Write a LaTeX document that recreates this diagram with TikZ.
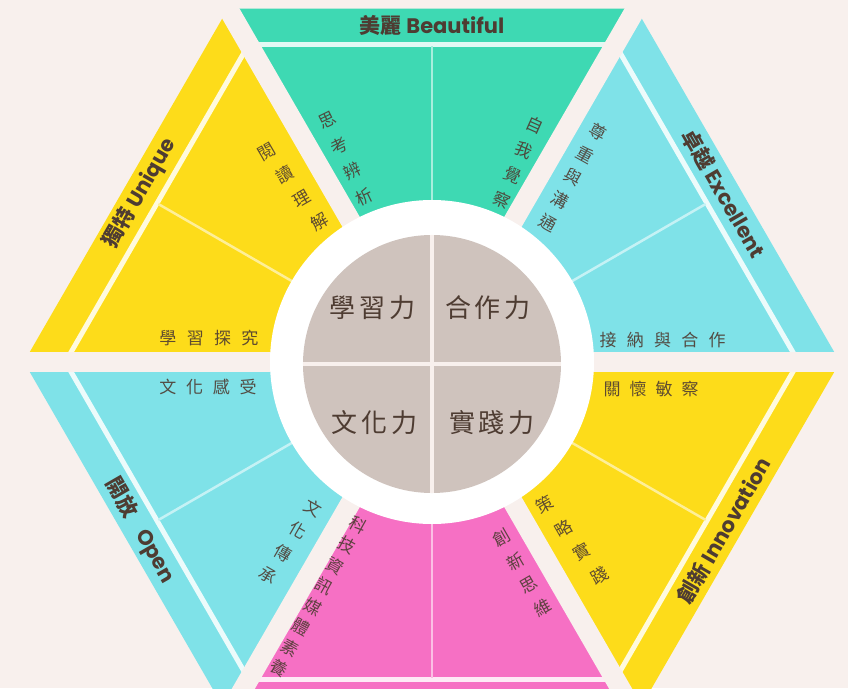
\documentclass[tikz,border=0pt]{standalone}
\usepackage{fontspec}
\usepackage{xcolor}
\usepackage{tikz}
\setmainfont{Noto Sans CJK TC}
\newfontfamily\bandlatin{Poppins}
\definecolor{paper}{RGB}{248,240,237}
\definecolor{hexgreen}{RGB}{62,217,179}
\definecolor{hexcyan}{RGB}{127,226,232}
\definecolor{hexyellow}{RGB}{253,220,26}
\definecolor{hexpink}{RGB}{246,112,196}
\definecolor{coregrey}{RGB}{207,195,189}
\definecolor{inkbrown}{RGB}{78,60,50}
\tikzset{
  bandtext/.style={font=\fontsize{21}{21}\selectfont, text=inkbrown, inner sep=0pt},
  itemtext/.style={font=\fontsize{17}{17}\selectfont, text=inkbrown, text opacity=0.9, inner sep=0pt},
  coretext/.style={font=\fontsize{26}{26}\selectfont, text=inkbrown, inner sep=0pt},
}
\newcommand{\bandlabel}[2]{{\bfseries #1}~{\bandlatin\bfseries #2}}
\newcommand{\charrow}[7]{%
% style, x, y of first character, direction, step,
% rotation of the characters, characters
  \pgfmathsetmacro{\cdir}{#4}
  \pgfmathsetmacro{\cstep}{#5}
  \foreach \ch [count=\i from 0] in {#7}
    \path (#2,#3) ++({\cdir}:{\i*\cstep}) node[#1, rotate=#6] {\ch};
}

\begin{document}
\begin{tikzpicture}[x=1pt, y=1pt]
  \fill[paper] (-432,-326) rectangle (416,362);
  \useasboundingbox (-432,-326) rectangle (416,362);
  % six sectors, band line and inner split
  \foreach \a/\col in {0/hexcyan,60/hexgreen,120/hexyellow,180/hexcyan,240/hexpink,300/hexyellow}{
    \fill[\col] (0,0) -- (\a:408) -- ({\a+60}:408) -- cycle;
    \draw[\col!15!white, line width=5pt] (\a:366.6) -- ({\a+60}:366.6);
    \draw[\col!45!white, line width=2.5pt] ({\a+30}:160) -- ({\a+30}:316);
  }
  % gaps between the sectors
  \foreach \a in {0,60,...,300}
    \draw[paper, line width=20pt] (0,0) -- (\a:440);
  % core
  \fill[white] (0,0) circle (162);
  \fill[coregrey] (0,-2) circle (129);
  \draw[paper, line width=4pt] (0,-131) -- (0,127);
  \draw[paper, line width=4pt] (-129,-2) -- (129,-2);
  % band labels
  \node[bandtext] (beautiful) at (90:337) {\bandlabel{美麗}{Beautiful}};
  \node[bandtext, rotate=60] (unique) at (150:337) {\bandlabel{獨特}{Unique}};
  \node[bandtext, rotate=-60] (excellent) at (30:337) {\bandlabel{卓越}{Excellent}};
  \node[bandtext, rotate=60] (innovation) at (-30:337) {\bandlabel{創新}{Innovation}};
  \node[bandtext, rotate=-60] (open) at (210:337) {\bandlabel{開放}{\hspace{0.6em}Open}};
  % items
  \charrow{itemtext}{-105}{242}{-64}{28.6}{26}{思,考,辨,析}
  \charrow{itemtext}{103}{237}{-114}{27.2}{-24}{自,我,覺,察}
  \charrow{itemtext}{166}{230}{-119}{26}{-29}{尊,重,與,溝,通}
  \charrow{itemtext}{-165}{210}{-53}{29}{30}{閱,讀,理,解}
  \charrow{itemtext}{-119}{-146}{-124}{27}{-30}{文,化,傳,承}
  \charrow{itemtext}{-74}{-163}{-119}{23.4}{-29}{科,技,資,訊,媒,體,素,養}
  \charrow{itemtext}{70}{-176}{-60}{26.9}{30}{創,新,思,維}
  \charrow{itemtext}{113}{-143}{-52}{29.7}{30}{策,略,實,踐}
  \charrow{itemtext}{-264}{24}{0}{27.3}{0}{學,習,探,究}
  \charrow{itemtext}{176}{22}{0}{27.3}{0}{接,納,與,合,作}
  \charrow{itemtext}{-264}{-25}{0}{26.7}{0}{文,化,感,受}
  \charrow{itemtext}{180}{-27}{0}{26}{0}{關,懷,敏,察}
  % core labels
  \charrow{coretext}{-89}{54}{0}{29.5}{0}{學,習,力}
  \charrow{coretext}{26}{54}{0}{29.5}{0}{合,作,力}
  \charrow{coretext}{-87}{-61}{0}{29.5}{0}{文,化,力}
  \charrow{coretext}{30}{-61}{0}{29.5}{0}{實,踐,力}
\end{tikzpicture}
\end{document}
